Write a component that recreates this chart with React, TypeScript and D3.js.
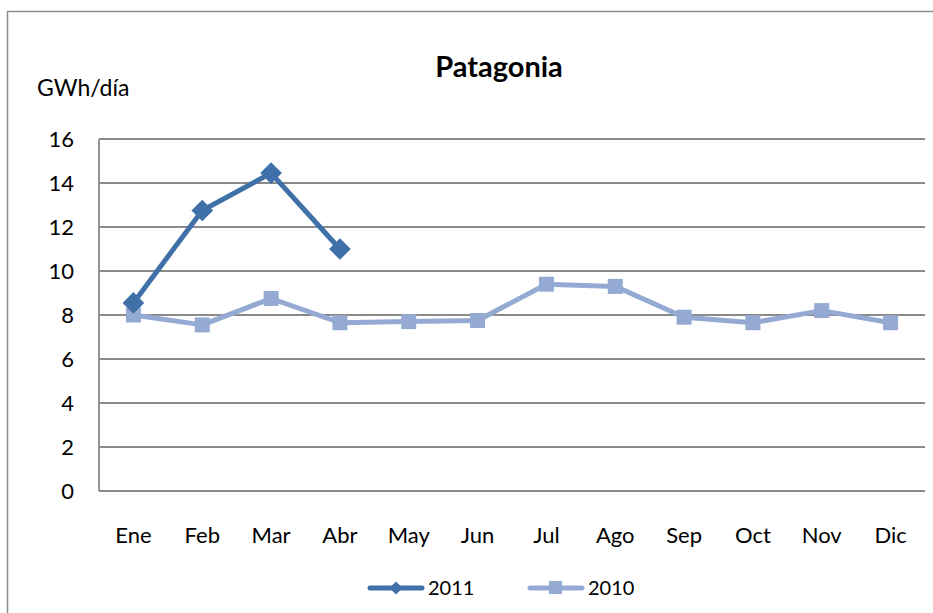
import { useEffect, useRef } from 'react';
import * as d3 from 'd3';

const months = ['Ene', 'Feb', 'Mar', 'Abr', 'May', 'Jun', 'Jul', 'Ago', 'Sep', 'Oct', 'Nov', 'Dic'];
const values2011 = [8.55, 12.75, 14.45, 11.0];
const values2010 = [8.0, 7.55, 8.75, 7.65, 7.7, 7.75, 9.4, 9.3, 7.9, 7.65, 8.2, 7.65];
const yTicks = [0, 2, 4, 6, 8, 10, 12, 14, 16];
const seriesNames = ['2011', '2010'];

const dark = '#4070A8';
const light = '#94AAD3';
const font = 'Lato, Carlito, Calibri, sans-serif';

export default function App() {
  const svgRef = useRef<SVGSVGElement>(null);

  useEffect(() => {
    const width = 933;
    const height = 613;
    const margin = { top: 139, right: 8, bottom: 122, left: 99 };
    const innerWidth = width - margin.left - margin.right;
    const innerHeight = height - margin.top - margin.bottom;

    const svg = d3.select(svgRef.current)
      .attr('width', width)
      .attr('height', height);
    svg.selectAll('*').remove();

    // chart frame
    svg.append('rect')
      .attr('x', 7.5).attr('y', 11.5)
      .attr('width', 940).attr('height', 620)
      .attr('fill', 'white')
      .attr('stroke', '#8c8c8c')
      .attr('stroke-width', 1.5);

    svg.append('text')
      .attr('x', 499).attr('y', 77)
      .attr('text-anchor', 'middle')
      .style('font-family', font)
      .style('font-weight', 'bold')
      .style('font-size', '29px')
      .text('Patagonia');

    svg.append('text')
      .attr('x', 37).attr('y', 96)
      .style('font-family', font)
      .style('font-size', '23px')
      .text('GWh/día');

    const chart = svg.append('g')
      .attr('transform', `translate(${margin.left},${margin.top})`);

    const xScale = d3.scaleBand()
      .domain(months)
      .range([0, innerWidth]);

    const yScale = d3.scaleLinear()
      .domain([0, 16])
      .range([innerHeight, 0]);

    const cx = (m: string) => (xScale(m) ?? 0) + xScale.bandwidth() / 2;

    chart.selectAll('.grid')
      .data(yTicks)
      .join('line')
      .attr('class', 'grid')
      .attr('x1', 0).attr('x2', innerWidth)
      .attr('y1', d => yScale(d)).attr('y2', d => yScale(d))
      .attr('stroke', '#8a8a8a')
      .attr('stroke-width', 1.8);

    chart.append('line')
      .attr('x1', 0).attr('x2', 0)
      .attr('y1', 0).attr('y2', innerHeight)
      .attr('stroke', '#8a8a8a')
      .attr('stroke-width', 1.8);

    chart.selectAll('.ylab')
      .data(yTicks)
      .join('text')
      .attr('class', 'ylab')
      .attr('x', -25)
      .attr('y', d => yScale(d))
      .attr('dy', '0.35em')
      .attr('text-anchor', 'end')
      .style('font-family', font)
      .style('font-size', '22px')
      .text(d => d);

    chart.selectAll('.xlab')
      .data(months)
      .join('text')
      .attr('class', 'xlab')
      .attr('x', d => cx(d))
      .attr('y', innerHeight + 52)
      .attr('text-anchor', 'middle')
      .style('font-family', font)
      .style('font-size', '22px')
      .text(d => d);

    const line = d3.line<number>()
      .x((_, i) => cx(months[i]))
      .y(d => yScale(d));

    // 2010 (drawn first, underneath)
    chart.append('path')
      .datum(values2010)
      .attr('d', line)
      .attr('fill', 'none')
      .attr('stroke', light)
      .attr('stroke-width', 5)
      .attr('stroke-linejoin', 'round');

    chart.selectAll('.sq')
      .data(values2010)
      .join('rect')
      .attr('class', 'sq')
      .attr('x', (_, i) => cx(months[i]) - 7.5)
      .attr('y', d => yScale(d) - 7.5)
      .attr('width', 15).attr('height', 15)
      .attr('fill', light);

    chart.append('path')
      .datum(values2011)
      .attr('d', line)
      .attr('fill', 'none')
      .attr('stroke', dark)
      .attr('stroke-width', 5)
      .attr('stroke-linejoin', 'round');

    const diamond = d3.symbol().type(d3.symbolDiamond2).size(300);
    chart.selectAll('.dia')
      .data(values2011)
      .join('path')
      .attr('class', 'dia')
      .attr('d', diamond)
      .attr('transform', (d, i) => `translate(${cx(months[i])},${yScale(d)})`)
      .attr('fill', dark);

    // legend
    const legend = svg.append('g').attr('transform', 'translate(0,588)');
    const items = [
      { name: seriesNames[0], color: dark, x: 368 },
      { name: seriesNames[1], color: light, x: 528 },
    ];
    items.forEach((it, k) => {
      const g = legend.append('g').attr('transform', `translate(${it.x},0)`);
      g.append('line')
        .attr('x1', 2).attr('x2', 54)
        .attr('y1', 0).attr('y2', 0)
        .attr('stroke', it.color)
        .attr('stroke-width', 5)
        .attr('stroke-linecap', 'round');
      if (k === 0) {
        g.append('path')
          .attr('d', d3.symbol().type(d3.symbolDiamond2).size(110)())
          .attr('transform', 'translate(28,0)')
          .attr('fill', it.color);
      } else {
        g.append('rect')
          .attr('x', 21).attr('y', -7)
          .attr('width', 13).attr('height', 13)
          .attr('fill', it.color);
      }
      g.append('text')
        .attr('x', 60).attr('y', 0)
        .attr('dy', '0.35em')
        .style('font-family', font)
        .style('font-size', '20px')
        .text(it.name);
    });
  }, []);

  return (
    <svg ref={svgRef} style={{ position: 'absolute', left: 0, top: 0 }}></svg>
  );
}
